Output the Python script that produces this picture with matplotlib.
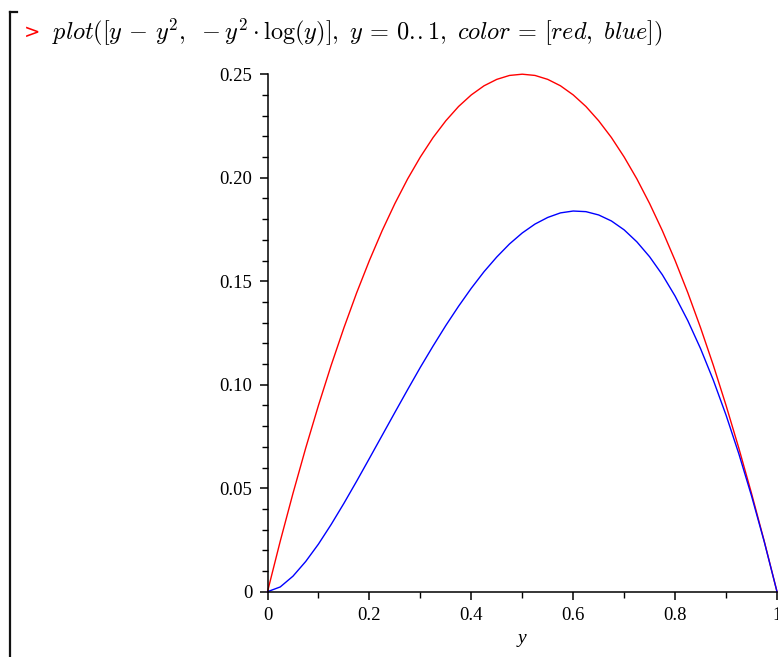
import matplotlib
matplotlib.use("Agg")
import matplotlib.pyplot as plt
from matplotlib.ticker import MultipleLocator, FixedLocator

# values
y_vals = [0, 0.025, 0.05, 0.075, 0.1, 0.125, 0.15, 0.175, 0.2, 0.225,
          0.25, 0.275, 0.3, 0.325, 0.35, 0.375, 0.4, 0.425, 0.45, 0.475,
          0.5, 0.525, 0.55, 0.575, 0.6, 0.625, 0.65, 0.675, 0.7, 0.725,
          0.75, 0.775, 0.8, 0.825, 0.85, 0.875, 0.9, 0.925, 0.95, 0.975, 1.0]
red_vals = [0, 0.0244, 0.0475, 0.0694, 0.09, 0.1094, 0.1275, 0.1444, 0.16, 0.1744,
            0.1875, 0.1994, 0.21, 0.2194, 0.2275, 0.2344, 0.24, 0.2444, 0.2475, 0.2494,
            0.25, 0.2494, 0.2475, 0.2444, 0.24, 0.2344, 0.2275, 0.2194, 0.21, 0.1994,
            0.1875, 0.1744, 0.16, 0.1444, 0.1275, 0.1094, 0.09, 0.0694, 0.0475, 0.0244, 0]
blue_vals = [0, 0.0023, 0.0075, 0.0146, 0.0230, 0.0325, 0.0427, 0.0534, 0.0644, 0.0755,
             0.0866, 0.0976, 0.1084, 0.1187, 0.1286, 0.1379, 0.1466, 0.1546, 0.1617, 0.1680,
             0.1733, 0.1776, 0.1808, 0.1830, 0.1839, 0.1836, 0.1820, 0.1791, 0.1748, 0.1690,
             0.1618, 0.1531, 0.1428, 0.1309, 0.1174, 0.1022, 0.0853, 0.0667, 0.0463, 0.0241, 0]
xticks = [0, 0.2, 0.4, 0.6, 0.8, 1.0]
xtick_labels = ['0', '0.2', '0.4', '0.6', '0.8', '1']
yticks = [0, 0.05, 0.10, 0.15, 0.20, 0.25]
ytick_labels = ['0', '0.05', '0.10', '0.15', '0.20', '0.25']

plt.rcParams['mathtext.fontset'] = 'cm'
plt.rcParams['font.family'] = ['Liberation Serif', 'DejaVu Serif']

W, H = 778, 657
fig = plt.figure(figsize=(W/100, H/100), dpi=100)
ax = fig.add_axes([267.5/W, 1-591.7/H, (777-267.5)/W, (591.7-74.2)/H])

ax.plot(y_vals, red_vals, color='#ff0000', lw=1.0, clip_on=False)
ax.plot(y_vals, blue_vals, color='#0000ff', lw=1.0, clip_on=False)

ax.set_xlim(0, 1)
ax.set_ylim(0, 0.25)
for s in ['top', 'right']:
    ax.spines[s].set_visible(False)
for s in ['left', 'bottom']:
    ax.spines[s].set_linewidth(1.1)

ax.xaxis.set_major_locator(FixedLocator(xticks))
ax.set_xticklabels(xtick_labels)
ax.xaxis.set_minor_locator(MultipleLocator(0.1))
ax.yaxis.set_major_locator(FixedLocator(yticks))
ax.set_yticklabels(ytick_labels)
ax.yaxis.set_minor_locator(MultipleLocator(0.01))
ax.tick_params(which='major', direction='out', length=6, width=1.1, labelsize=13.5, pad=5)
ax.tick_params(which='minor', direction='out', length=4, width=1.0)
ax.set_xlabel('y', fontstyle='italic', fontsize=14, labelpad=4)

# worksheet decoration: bracket and prompt
fig.add_artist(plt.Line2D([10/W, 10/W], [1-12/H, 0], color='#111111', lw=1.6))
fig.add_artist(plt.Line2D([10/W, 17/W], [1-12/H, 1-12/H], color='#111111', lw=1.6))
fig.text(24/W, 1-38/H, '>', color='#ff0000', fontsize=14, family='DejaVu Sans')
fig.text(52/W, 1-39/H,
         r'$plot([y\,-\,y^2,\ -y^2 \cdot \log(y)],\ y\,=\,0.\!.1,\ color\,=\,[red,\ blue])$',
         fontsize=17.5)

fig.savefig('out.png', dpi=100)
